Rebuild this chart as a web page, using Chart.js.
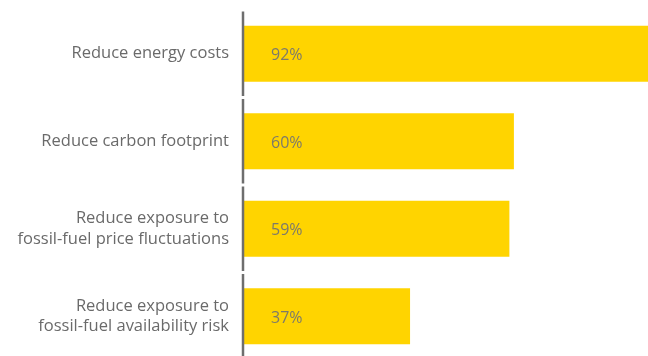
<!DOCTYPE html>
<html>
<head>
<meta charset="utf-8">
<script src="https://cdn.jsdelivr.net/npm/chart.js@4"></script>
<style>
  html, body { margin: 0; padding: 0; background: #fff; overflow: hidden; }
  #wrap { width: 648px; height: 356px; overflow: hidden; }
</style>
</head>
<body>
<div id="wrap"><canvas id="chart" width="648" height="360"></canvas></div>
<script>
// data
const categories = [
    ['Reduce energy costs'],
    ['Reduce carbon footprint'],
    ['Reduce exposure to', 'fossil-fuel price fluctuations'],
    ['Reduce exposure to', 'fossil-fuel availability risk']
];
const shares = [92, 60, 59, 37];

const BAR_YELLOW = '#FFD400';
const TEXT_GREY = '#6a6a6a';

// value label inside each bar, near its base
const valueLabels = {
    id: 'valueLabels',
    afterDatasetsDraw(chart) {
        const ctx = chart.ctx;
        const meta = chart.getDatasetMeta(0);
        ctx.save();
        ctx.font = '16px "Open Sans", sans-serif';
        ctx.fillStyle = '#7d7a6a';
        ctx.textAlign = 'left';
        ctx.textBaseline = 'middle';
        meta.data.forEach((bar, i) => {
            ctx.fillText(shares[i] + '%', bar.base + 28, bar.y + 2);
        });
        ctx.restore();
    }
};

// vertical axis line, broken between categories
const axisLine = {
    id: 'axisLine',
    afterDatasetsDraw(chart) {
        const ctx = chart.ctx;
        const y = chart.scales.y;
        const x = chart.chartArea.left;
        const half = (y.bottom - y.top) / categories.length / 2;
        ctx.save();
        ctx.strokeStyle = '#6e6e6e';
        ctx.lineWidth = 2.5;
        categories.forEach((c, i) => {
            const cy = y.getPixelForValue(i);
            ctx.beginPath();
            ctx.moveTo(x, cy - half + 1.5);
            ctx.lineTo(x, cy + half - 1.5);
            ctx.stroke();
        });
        ctx.restore();
    }
};

new Chart(document.getElementById('chart'), {
    type: 'bar',
    data: {
        labels: categories,
        datasets: [{
            data: shares,
            backgroundColor: BAR_YELLOW,
            borderWidth: 0,
            categoryPercentage: 1,
            barPercentage: 0.64
        }]
    },
    options: {
        indexAxis: 'y',
        responsive: false,
        animation: false,
        devicePixelRatio: 1,
        layout: { padding: { top: 10, right: 0, bottom: 0, left: 0 } },
        plugins: {
            legend: { display: false },
            tooltip: { enabled: false }
        },
        scales: {
            x: {
                display: false,
                min: 0,
                max: 89.7
            },
            y: {
                grid: { display: false, drawTicks: false },
                border: { display: false },
                ticks: {
                    color: TEXT_GREY,
                    padding: 14,
                    font: { family: '"Open Sans", sans-serif', size: 16.5, lineHeight: 1.25 }
                },
                afterFit(scale) {
                    scale.width = 243;
                    scale.paddingTop = 0;
                    scale.paddingBottom = 0;
                }
            }
        }
    },
    plugins: [valueLabels, axisLine]
});
</script>
</body>
</html>
